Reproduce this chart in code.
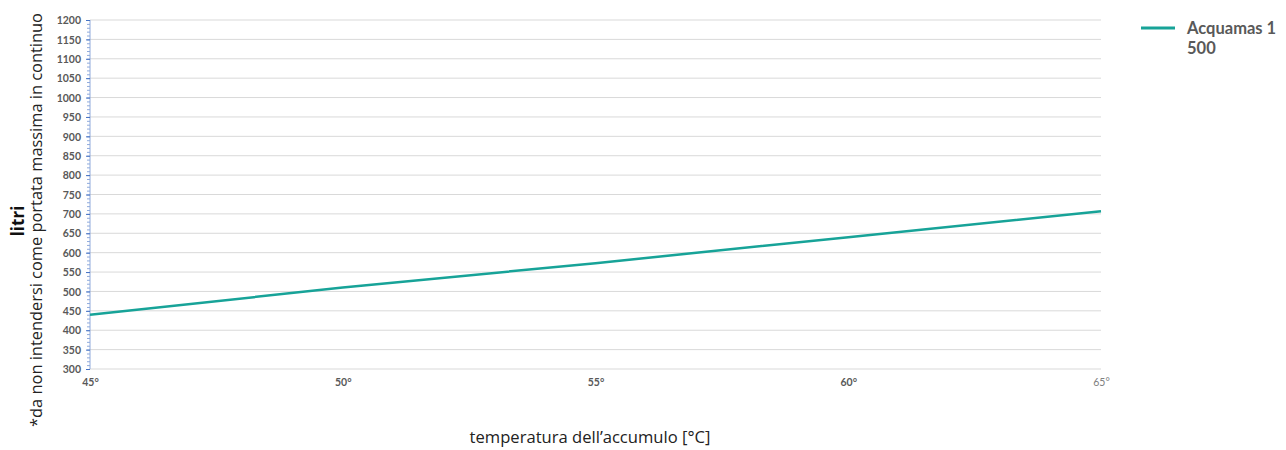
<!DOCTYPE html>
<html>
<head>
<meta charset="utf-8">
<script src="https://cdn.jsdelivr.net/npm/d3@7"></script>
<style>
	body { margin: 0; background: #fff; }
	svg { display: block; }
	.tick-label { font-family: Lato, "Open Sans", sans-serif; font-weight: 700; font-size: 10.5px; fill: #595959; }
	.title { font-family: "Open Sans", "Noto Sans", sans-serif; fill: #222; }
</style>
</head>
<body>
<div id="chart-area"><svg></svg></div>
<script>
const chartSize = { width: 1286, height: 450 };
const margin = { left: 90, right: 185, top: 20, bottom: 81 };
const width = chartSize.width - margin.left - margin.right;
const height = chartSize.height - margin.top - margin.bottom;

const temperatures = [45, 50, 55, 60, 65];
const litres = [440, 510, 573, 640, 707];
const xTickLabels = ["45°", "50°", "55°", "60°", "65°"];
const yTickValues = [300, 350, 400, 450, 500, 550, 600, 650, 700, 750, 800, 850, 900, 950, 1000, 1050, 1100, 1150, 1200];
const seriesName = ["Acquamas 1", "500"];

const lineColor = "#17a398";

const drawChart = () => {
	const svg = d3
		.select("#chart-area svg")
		.attr("width", chartSize.width)
		.attr("height", chartSize.height);

	const g = svg
		.append("g")
		.attr("transform", `translate(${margin.left},${margin.top})`);

	const x = d3
		.scaleLinear()
		.domain([45, 65])
		.range([0, width]);

	const y = d3
		.scaleLinear()
		.domain([300, 1200])
		.range([height, 0]);

	// gridlines
	g.append("g")
		.selectAll("line")
		.data(yTickValues)
		.join("line")
		.attr("x1", 0)
		.attr("x2", width)
		.attr("y1", d => y(d))
		.attr("y2", d => y(d))
		.attr("stroke", "#d9d9d9")
		.attr("stroke-width", 1);

	// minor ticks on y axis
	const minor = g
		.append("g")
		.call(
			d3
				.axisLeft(y)
				.tickValues(d3.range(300, 1201, 10))
				.tickSize(3)
				.tickFormat("")
		);
	minor.select(".domain").remove();
	minor.selectAll("line").attr("stroke", "#8faadc");

	const yAxis = g.append("g").call(
		d3
			.axisLeft(y)
			.tickValues(yTickValues)
			.tickSize(4)
			.tickPadding(5)
			.tickFormat(d3.format("d"))
	);
	yAxis.select(".domain").attr("stroke", "#8faadc").attr("d", `M0,${height}V0`);
	yAxis.selectAll("line").attr("stroke", "#4472c4");
	yAxis.selectAll("text").attr("class", "tick-label").attr("dy", "0.35em").attr("fill", null);

	const xAxis = g
		.append("g")
		.attr("transform", `translate(0,${height})`)
		.call(
			d3
				.axisBottom(x)
				.tickValues(temperatures)
				.tickSize(0)
				.tickPadding(10)
				.tickFormat((d, i) => xTickLabels[i])
		);
	xAxis.select(".domain").remove();
	xAxis
		.selectAll("text")
		.attr("class", "tick-label")
		.attr("fill", null)
		.filter((d, i) => i === temperatures.length - 1)
		.style("font-weight", 400)
		.style("fill", "#808080");

	const line = d3
		.line()
		.x((d, i) => x(temperatures[i]))
		.y(d => y(d));

	g.append("path")
		.attr("d", line(litres))
		.attr("fill", "none")
		.attr("stroke", lineColor)
		.attr("stroke-width", 2.5);

	// axis titles
	svg.append("text")
		.attr("class", "title")
		.attr("transform", "translate(24,221) rotate(-90)")
		.attr("text-anchor", "middle")
		.style("font-size", "17px")
		.style("font-weight", 700)
		.style("fill", "#111")
		.text("litri");

	svg.append("text")
		.attr("class", "title")
		.attr("transform", "translate(42,220) rotate(-90)")
		.attr("text-anchor", "middle")
		.style("font-size", "16.4px")
		.text("*da non intendersi come portata massima in continuo");

	svg.append("text")
		.attr("class", "title")
		.attr("x", 590)
		.attr("y", 443)
		.attr("text-anchor", "middle")
		.style("font-size", "16.6px")
		.text("temperatura dell’accumulo [°C]");

	// legend
	const legend = svg.append("g").attr("transform", "translate(1141,28)");
	legend
		.append("line")
		.attr("x1", 0)
		.attr("x2", 34)
		.attr("stroke", lineColor)
		.attr("stroke-width", 3);
	legend
		.append("text")
		.attr("x", 46)
		.attr("y", 0)
		.style("font-family", "Lato, 'Open Sans', sans-serif")
		.style("font-weight", 700)
		.style("font-size", "16.5px")
		.style("fill", "#595959")
		.selectAll("tspan")
		.data(seriesName)
		.join("tspan")
		.attr("x", 46)
		.attr("dy", (d, i) => (i === 0 ? "0.35em" : "1.2em"))
		.text(d => d);
};

window.onload = drawChart;
</script>
</body>
</html>
